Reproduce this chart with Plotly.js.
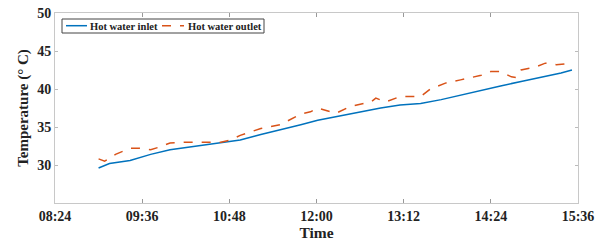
<!DOCTYPE html>
<html><head><meta charset="utf-8">
<script src="https://cdn.plot.ly/plotly-3.0.1.min.js"></script>
<style>body{margin:0;background:#fff}#c{width:609px;height:248px}</style>
</head><body><div id="c"></div>
<script>
const day = '2020-01-01 ';
const inletTimes = ['09:00','09:09','09:26','09:43','09:59','10:16','10:24','10:49','10:57','11:14','11:30','11:47','12:01','12:20','12:36','12:53','13:09','13:26','13:43','13:59','14:16','14:32','14:49','15:05','15:22','15:31'];
const inletTemp = [29.6,30.2,30.6,31.4,32.0,32.4,32.6,33.1,33.3,34.0,34.6,35.3,35.9,36.5,37.0,37.5,37.9,38.1,38.6,39.2,39.9,40.4,41.0,41.5,42.1,42.5];
const outletTimes = ['09:00','09:05','09:14','09:26','09:34','09:43','09:51','09:59','10:12','10:24','10:41','10:49','10:57','11:14','11:30','11:47','11:55','12:01','12:12','12:16','12:28','12:45','12:49','12:57','13:09','13:26','13:34','13:47','13:59','14:16','14:24','14:32','14:41','14:45','14:49','15:01','15:09','15:18','15:31'];
const outletTemp = [30.8,30.5,31.4,32.2,32.2,32.0,32.4,32.9,33.0,33.0,33.0,33.3,33.9,34.8,35.3,36.7,37.0,37.5,37.0,36.8,37.7,38.3,38.8,38.3,39.0,39.0,40.0,40.8,41.2,41.8,42.3,42.3,41.6,41.5,42.5,42.9,43.4,43.2,43.4];
const seriesNames = ['Hot water inlet','Hot water outlet'];
const xTickTimes = ['08:24','09:36','10:48','12:00','13:12','14:24','15:36'];
const yTicks = [30,35,40,45,50];

const fam = 'Liberation Serif, Times New Roman, serif';
const colors = ['#0072BD','#D95319'];
const traces = [
  {x: inletTimes.map(t=>day+t), y: inletTemp, name:seriesNames[0], mode:'lines',
   line:{color:colors[0], width:1.5}},
  {x: outletTimes.map(t=>day+t), y: outletTemp, name:seriesNames[1], mode:'lines',
   line:{color:colors[1], width:1.5, dash:'dash'}}
];
// custom compact legend (pixel -> paper helpers)
const L=55, W=523, T=13, H=190;
const px = v => (v-L)/W, py = v => 1-(v-T)/H;
const shapes = [
  {type:'rect', xref:'paper', yref:'paper', x0:px(62), x1:px(264), y0:py(33), y1:py(19),
   line:{color:'#444', width:1}, fillcolor:'#fff', layer:'above'},
  {type:'line', xref:'paper', yref:'paper', x0:px(66), x1:px(87), y0:py(25.7), y1:py(25.7),
   line:{color:colors[0], width:1.5}, layer:'above'},
  {type:'line', xref:'paper', yref:'paper', x0:px(162), x1:px(184), y0:py(25.7), y1:py(25.7),
   line:{color:colors[1], width:1.5, dash:'dash'}, layer:'above'}
];
const annotations = [
  {xref:'paper', yref:'paper', x:px(88), y:py(26), xanchor:'left', yanchor:'middle', showarrow:false,
   text:seriesNames[0], font:{family:fam, size:10.5, color:'#222', weight:'bold'}},
  {xref:'paper', yref:'paper', x:px(186), y:py(26), xanchor:'left', yanchor:'middle', showarrow:false,
   text:seriesNames[1], font:{family:fam, size:10.5, color:'#222', weight:'bold'}}
];
const layout = {
  width:609, height:248,
  margin:{l:55, r:31, t:13, b:45},
  paper_bgcolor:'#fff', plot_bgcolor:'#fff',
  font: {family:fam, color:'#222'},
  showlegend:false,
  shapes: shapes, annotations: annotations,
  xaxis:{type:'date', range:[day+xTickTimes[0], day+xTickTimes[xTickTimes.length-1]],
    tickvals: xTickTimes.map(t=>day+t), ticktext: xTickTimes,
    ticks:'inside', ticklen:4, tickcolor:'#999', showgrid:false, zeroline:false,
    showline:true, linecolor:'#c8c8c8', linewidth:1, mirror:'ticks',
    tickfont:{family:fam, size:14, color:'#222', weight:'bold'},
    title:{text:'Time', standoff:3, font:{family:fam, size:15.5, color:'#222', weight:'bold'}}},
  yaxis:{range:[25,50], tickvals:yTicks,
    ticks:'inside', ticklen:3, tickcolor:'#bbb', showgrid:false, zeroline:false,
    showline:true, linecolor:'#c8c8c8', linewidth:1, mirror:'ticks',
    tickfont:{family:fam, size:14, color:'#222', weight:'bold'},
    title:{text:'Temperature (° C)', standoff:4, font:{family:fam, size:15, color:'#222', weight:'bold'}}}
};
Plotly.newPlot('c', traces, layout, {staticPlot:true});
</script></body></html>
